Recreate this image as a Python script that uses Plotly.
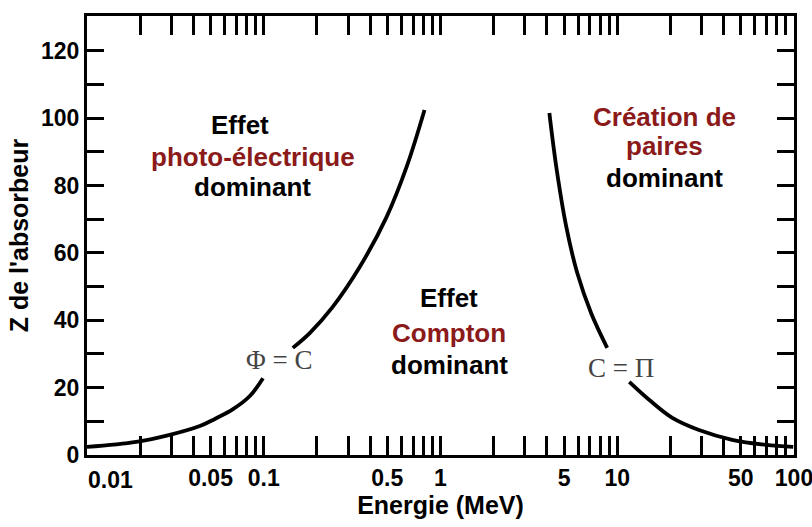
import math
import plotly.graph_objects as go

# frontieres entre les effets dominants
pc_low_e = [0.01, 0.019, 0.029, 0.0435, 0.0529, 0.067, 0.0834, 0.099]
pc_low_z = [2.4, 3.9, 5.9, 8.6, 10.7, 13.6, 17.5, 22.8]
pc_high_e = [0.146, 0.182, 0.245, 0.349, 0.495, 0.643, 0.812]
pc_high_z = [31.8, 36.2, 43.9, 55.8, 70.6, 85.5, 102.4]

cp_high_e = [4.13, 4.52, 5.15, 5.94, 7.13, 8.77]
cp_high_z = [101.5, 85.5, 67.7, 54.0, 42.0, 31.8]
cp_low_e = [11.7, 15.2, 20.5, 29.0, 44.7, 69.5, 99.0]
cp_low_z = [21.7, 16.3, 11.0, 7.4, 4.5, 3.0, 2.4]

x_ticks = [m * 10.0 ** d for d in range(-2, 2) for m in range(1, 10)] + [100]
x_labels = {0.05: "0.05", 0.1: "0.1", 0.5: "0.5", 1: "1", 5: "5", 10: "10", 50: "50", 100: "100"}
y_ticks = list(range(0, 130, 10))

RED = "#8B1A1A"
SANS = "Liberation Sans, Arial, sans-serif"
SERIF = "Liberation Serif, Times New Roman, serif"

# textes des zones: (texte, couleur, energie, Z)
zone_text = [
    ("Effet", "black", 0.0738, 97.9),
    ("photo-électrique", RED, 0.0867, 88.4),
    ("dominant", "black", 0.0867, 79.5),
    ("Effet", "black", 1.12, 46.6),
    ("Compton", RED, 1.12, 36.2),
    ("dominant", "black", 1.12, 26.7),
    ("Création de", RED, 18.4, 100.2),
    ("paires", RED, 18.4, 91.8),
    ("dominant", "black", 18.4, 82.2),
]

fig = go.Figure()
for xs, ys in [(pc_low_e, pc_low_z), (pc_high_e, pc_high_z),
               (cp_high_e, cp_high_z), (cp_low_e, cp_low_z)]:
    fig.add_trace(go.Scatter(x=xs, y=ys, mode="lines",
                             line=dict(color="black", width=3.8, shape="spline"),
                             showlegend=False, hoverinfo="skip"))

for t, c, e, z in zone_text:
    fig.add_annotation(x=math.log10(e), y=z, text=t, showarrow=False,
                       font=dict(family=SANS, size=26, weight="bold", color=c))

fig.add_annotation(x=math.log10(0.1215), y=28.2, text="Φ = C", showarrow=False,
                   font=dict(family=SERIF, size=27, color="#444"))
fig.add_annotation(x=math.log10(10.5), y=25.8, text="C = Π", showarrow=False,
                   font=dict(family=SERIF, size=27, color="#444"))
# etiquette 0.01 decalee comme sur l'original
fig.add_annotation(x=math.log10(0.01), y=0, yshift=-25, xshift=23, text="0.01", showarrow=False,
                   font=dict(family=SANS, size=23, weight="bold", color="black"))

fig.update_xaxes(type="log", range=[-2, 2], tickmode="array", tickvals=x_ticks,
                 ticktext=[x_labels.get(round(v, 6), "") for v in x_ticks],
                 ticks="inside", ticklen=19, tickwidth=2.5, tickcolor="black",
                 mirror="allticks", showline=True, linewidth=3, linecolor="black",
                 showgrid=False, zeroline=False, automargin=False,
                 ticklabeloverflow="allow",
                 tickfont=dict(family=SANS, size=23, weight="bold", color="black"),
                 title=dict(text="Energie (MeV)", standoff=6,
                            font=dict(family=SANS, size=25, weight="bold", color="black")))
fig.update_yaxes(range=[0, 130.3], tickmode="array", tickvals=y_ticks,
                 ticktext=[str(v) if v % 20 == 0 else "" for v in y_ticks],
                 ticks="inside", ticklen=17, tickwidth=2.5, tickcolor="black",
                 mirror="allticks", showline=True, linewidth=3, linecolor="black",
                 showgrid=False, zeroline=False, automargin=False,
                 tickfont=dict(family=SANS, size=23, weight="bold", color="black"),
                 title=dict(text="Z de l'absorbeur", standoff=6,
                            font=dict(family=SANS, size=25, weight="bold", color="black")))

fig.update_layout(width=812, height=527, margin=dict(l=87, r=18, t=16, b=72),
                  plot_bgcolor="white", paper_bgcolor="white")
# pas de marge de page autour du graphique
fig.write_html("out.html", config={"displayModeBar": False},
               post_script="document.body.style.margin='0';")
